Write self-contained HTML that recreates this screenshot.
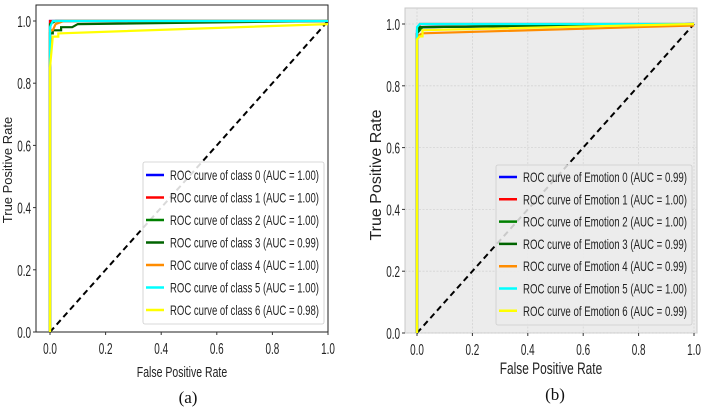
<!DOCTYPE html>
<html><head><meta charset="utf-8"><style>
html,body{margin:0;padding:0;background:#fff;}
svg{display:block;font-family:"Liberation Sans",sans-serif;}
</style></head><body>
<svg id="s" width="709" height="411" viewBox="0 0 709 411"></svg>
<script>
const ticks = [0, 0.2, 0.4, 0.6, 0.8, 1.0];
const tickLabels = ["0.0","0.2","0.4","0.6","0.8","1.0"];
const colors = ["#0000ff","#ff0000","#008000","#006400","#ff8c00","#00ffff","#ffff00"];
const labelsA = ["ROC curve of class 0 (AUC = 1.00)","ROC curve of class 1 (AUC = 1.00)","ROC curve of class 2 (AUC = 1.00)","ROC curve of class 3 (AUC = 0.99)","ROC curve of class 4 (AUC = 1.00)","ROC curve of class 5 (AUC = 1.00)","ROC curve of class 6 (AUC = 0.98)"];
const labelsB = ["ROC curve of Emotion 0 (AUC = 0.99)","ROC curve of Emotion 1 (AUC = 1.00)","ROC curve of Emotion 2 (AUC = 1.00)","ROC curve of Emotion 3 (AUC = 0.99)","ROC curve of Emotion 4 (AUC = 0.99)","ROC curve of Emotion 5 (AUC = 1.00)","ROC curve of Emotion 6 (AUC = 0.99)"];
const fprA = [[0,0,1],[0,0,1],[0,0,0.02,1],[0,0,0.01,0.01,0.04,0.04,0.08,0.1,1],[0,0,0.01,0.02,0.02,0.05,1],[0,0,0.01,1],[0,0,0.01,0.01,0.03,0.03,1]];
const tprA = [[0,1,1],[0,1,1],[0,0.99,1,1],[0,0.96,0.96,0.97,0.97,0.98,0.98,0.99,1],[0,0.97,0.97,0.99,0.99,1,1],[0,0.98,1,1],[0,0.85,0.95,0.95,0.95,0.96,0.99]];
const fprB = [[0,0,0.01,1],[0,0,0.01,1],[0,0,0.02,1],[0,0,0.01,0.02,1],[0,0,0.02,1],[0,0,0.01,1],[0,0,0.01,0.02,0.02,1]];
const tprB = [[0,0.98,0.99,1],[0,0.97,1,1],[0,0.97,0.99,1],[0,0.97,0.99,0.99,1],[0,0.96,0.97,0.995],[0,0.99,1,1],[0,0.95,0.96,0.96,0.98,1]];

const S = document.getElementById('s');
const NS = 'http://www.w3.org/2000/svg';
function mk(tag, attrs, parent, text){const e=document.createElementNS(NS,tag);for(const k in attrs)e.setAttribute(k,attrs[k]);if(text!==undefined)e.textContent=text;(parent||S).appendChild(e);return e;}

function chart(cfg){
  const g = mk('g',{});
  
  
  const xs = v => cfg.x0 + v*(cfg.x1-cfg.x0);
  const ys = v => cfg.y0 - v*(cfg.y0-cfg.y1);
  const bg = mk('rect',{x:cfg.fl,y:cfg.ft,width:cfg.fr-cfg.fl,height:cfg.fb-cfg.ft,fill:cfg.bg,stroke:cfg.frame,'stroke-width':1},g);
  
  
  if(cfg.grid){
    ticks.forEach(t=>{
      mk('line',{x1:xs(t),x2:xs(t),y1:cfg.ft,y2:cfg.fb,stroke:'#d4d4d4','stroke-width':0.8,'stroke-dasharray':'2,1.5'},g);
      mk('line',{x1:cfg.fl,x2:cfg.fr,y1:ys(t),y2:ys(t),stroke:'#d4d4d4','stroke-width':0.8,'stroke-dasharray':'2,1.5'},g);
    });
  }
  ticks.forEach((t,i)=>{
    mk('line',{x1:xs(t),x2:xs(t),y1:cfg.fb,y2:cfg.fb+3,stroke:'#333','stroke-width':1},g);
    mk('line',{x1:cfg.fl-3,x2:cfg.fl,y1:ys(t),y2:ys(t),stroke:'#333','stroke-width':1},g);
    const tx = mk('text',{x:xs(t),y:cfg.fb+22,'font-size':16,'text-anchor':'middle',fill:'#222',transform:`translate(${xs(t)},0) scale(0.62,1) translate(${-xs(t)},0)`},g,tickLabels[i]);
    
    
    const ty = mk('text',{x:cfg.fl-5,y:ys(t)+6,'font-size':16,'text-anchor':'end',fill:'#222',transform:`translate(${cfg.fl-5},0) scale(0.62,1) translate(${-(cfg.fl-5)},0)`},g,tickLabels[i]);
    
    
  });
  const d = mk('line',{x1:xs(0),y1:ys(0),x2:xs(1),y2:ys(1),stroke:'#000','stroke-width':2,'stroke-dasharray':'6,4'},g);
  
  
  for(let i=0;i<7;i++){
    const pts = cfg.fpr[i].map((f,j)=>xs(f).toFixed(1)+','+ys(cfg.tpr[i][j]).toFixed(1)).join(' ');
    const p = mk('polyline',{points:pts,fill:'none',stroke:colors[i],'stroke-width':2.2,'stroke-linejoin':'miter'},g);
    
    
  }
  const lg = mk('g',{},g);
  
  
  mk('rect',{x:cfg.lx,y:cfg.ly,width:cfg.lw,height:cfg.lh,fill:cfg.bg=='#fff'?'#fff':'#ececec','fill-opacity':0.85,stroke:'#ccc','stroke-width':0.8,rx:2},lg);
  cfg.labels.forEach((l,i)=>{
    const y = cfg.ey0 + i*cfg.estep;
    mk('line',{x1:cfg.lx+3,x2:cfg.lx+21,y1:y,y2:y,stroke:colors[i],'stroke-width':2.5},lg);
    const t = mk('text',{x:cfg.lx+27,y:y+5,'font-size':14,fill:'#222',textLength:cfg.tl,lengthAdjust:'spacingAndGlyphs'},lg,l);
    
    
  });
  const xl = mk('text',{x:(cfg.fl+cfg.fr)/2,y:cfg.xly,'font-size':cfg.xfs,'text-anchor':'middle',fill:'#222',transform:`translate(${(cfg.fl+cfg.fr)/2},0) scale(0.7,1) translate(${-(cfg.fl+cfg.fr)/2},0)`},g,'False Positive Rate');
  
  
  const yl = mk('text',{x:0,y:0,'font-size':cfg.yfs,'text-anchor':'middle',fill:'#222',transform:`translate(${cfg.ylx},${cfg.yly}) rotate(-90)`},g,'True Positive Rate');
  
  
  const cap = mk('text',{x:cfg.capx,y:cfg.capy,'font-size':17,'text-anchor':'middle',fill:'#111','font-family':'"Liberation Serif",serif'},g,cfg.cap);
  
  
}
chart({name:'chart-a',fl:36,fr:328,ft:5,fb:332,x0:50,x1:328,y0:332,y1:21,bg:'#fff',frame:'#222',grid:false,
  fpr:fprA,tpr:tprA,labels:labelsA,lx:143,ly:162,lw:181,lh:162,ey0:175,estep:22.5,tl:149,
  xly:377,xfs:15,ylx:12,yly:170,yfs:13,cap:'(a)',capx:188,capy:403});
chart({name:'chart-b',fl:405,fr:697,ft:8,fb:333,x0:417,x1:694,y0:333,y1:24,bg:'#ececec',frame:'#c8c8c8',grid:true,
  fpr:fprB,tpr:tprB,labels:labelsB,lx:496,ly:165,lw:196,lh:160,ey0:177,estep:22.3,tl:164,
  xly:374,xfs:17,ylx:381,yly:175,yfs:16,cap:'(b)',capx:555,capy:400});
</script>
</body></html>
